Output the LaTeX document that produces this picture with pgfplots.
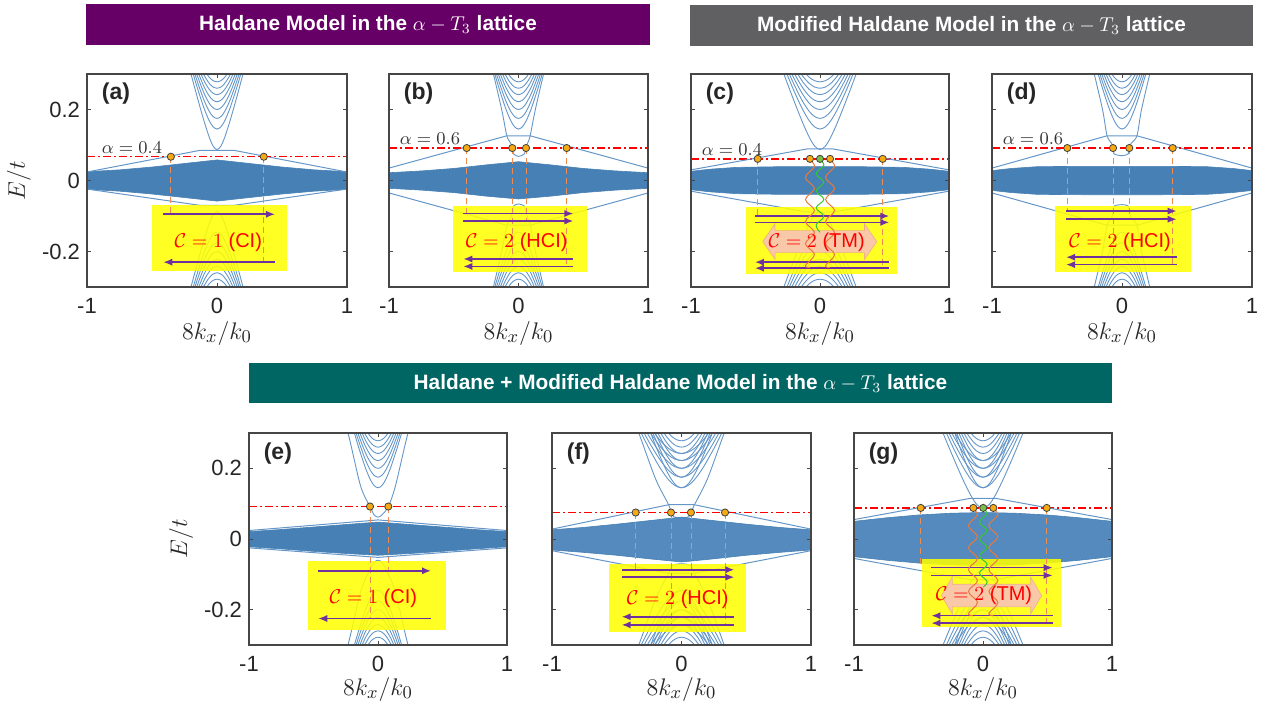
\documentclass[border=0pt]{standalone}
\usepackage{pgfplots}
\pgfplotsset{compat=1.18}
\usepackage{pgfplotstable}
\usepackage{fontspec}
\setmainfont{Liberation Sans}
\usetikzlibrary{arrows.meta}

\definecolor{hpurple}{RGB}{102,0,102}
\definecolor{hgray}{RGB}{96,96,98}
\definecolor{hteal}{RGB}{0,102,100}
\definecolor{bandc}{RGB}{70,128,180}
\definecolor{bandl}{RGB}{84,138,190}
\definecolor{conec}{RGB}{100,150,200}
\definecolor{axisc}{RGB}{70,70,70}
\definecolor{boxc}{RGB}{255,255,0}
\definecolor{arrc}{RGB}{112,48,160}
\definecolor{dotc}{RGB}{245,170,20}
\definecolor{dotg}{RGB}{120,190,70}
\definecolor{dashc}{RGB}{240,140,80}
\definecolor{wavec}{RGB}{235,120,60}
\definecolor{waveg}{RGB}{50,200,50}
\definecolor{peach}{RGB}{249,200,168}
\definecolor{peachd}{RGB}{240,175,130}

\newcommand{\tickfont}{\fontsize{11}{12}\selectfont}
\newcommand{\labfont}{\fontsize{12.5}{14}\selectfont}
\newcommand{\headfont}{\fontsize{10.4}{12}\selectfont\bfseries}
\newcommand{\letfont}{\fontsize{11.5}{13}\selectfont\bfseries}
\newcommand{\boxfont}{\fontsize{10}{12}\selectfont}
\newcommand{\alfont}{\fontsize{9}{10}\selectfont}

% Dirac-cone subbands (upper and lower branches), E/t versus 8k_x/k_0
\pgfplotstableread{
k c1 c2 c3 c4 c5 c6 c7 c8
-0.25 0.3691 0.3869 0.3992 0.4107 0.4218 0.4330 0.4432 0.4542
-0.20 0.2999 0.3216 0.3361 0.3498 0.3628 0.3755 0.3864 0.3986
-0.15 0.2322 0.2595 0.2774 0.2938 0.3092 0.3239 0.3375 0.3489
-0.10 0.1678 0.2040 0.2263 0.2462 0.2643 0.2813 0.2970 0.3129
-0.06 0.1224 0.1686 0.1950 0.2177 0.2381 0.2569 0.2739 0.2910
-0.03 0.0971 0.1513 0.1802 0.2046 0.2261 0.2458 0.2635 0.2813
0.00 0.0870 0.1450 0.1750 0.2000 0.2220 0.2420 0.2600 0.2780
0.03 0.0971 0.1513 0.1802 0.2046 0.2261 0.2458 0.2635 0.2813
0.06 0.1224 0.1686 0.1950 0.2177 0.2381 0.2569 0.2739 0.2910
0.10 0.1678 0.2040 0.2263 0.2462 0.2643 0.2813 0.2970 0.3129
0.15 0.2322 0.2595 0.2774 0.2938 0.3092 0.3239 0.3375 0.3489
0.20 0.2999 0.3216 0.3361 0.3498 0.3628 0.3755 0.3864 0.3986
0.25 0.3691 0.3869 0.3992 0.4107 0.4218 0.4330 0.4432 0.4542
}\coneup
\pgfplotstableread{
k c1 c2 c3 c4 c5 c6 c7 c8
-0.25 -0.3691 -0.3869 -0.3992 -0.4107 -0.4218 -0.4330 -0.4432 -0.4542
-0.20 -0.2999 -0.3216 -0.3361 -0.3498 -0.3628 -0.3755 -0.3864 -0.3986
-0.15 -0.2322 -0.2595 -0.2774 -0.2938 -0.3092 -0.3239 -0.3375 -0.3489
-0.10 -0.1678 -0.2040 -0.2263 -0.2462 -0.2643 -0.2813 -0.2970 -0.3129
-0.06 -0.1224 -0.1686 -0.1950 -0.2177 -0.2381 -0.2569 -0.2739 -0.2910
-0.03 -0.0971 -0.1513 -0.1802 -0.2046 -0.2261 -0.2458 -0.2635 -0.2813
0.00 -0.0870 -0.1450 -0.1750 -0.2000 -0.2220 -0.2420 -0.2600 -0.2780
0.03 -0.0971 -0.1513 -0.1802 -0.2046 -0.2261 -0.2458 -0.2635 -0.2813
0.06 -0.1224 -0.1686 -0.1950 -0.2177 -0.2381 -0.2569 -0.2739 -0.2910
0.10 -0.1678 -0.2040 -0.2263 -0.2462 -0.2643 -0.2813 -0.2970 -0.3129
0.15 -0.2322 -0.2595 -0.2774 -0.2938 -0.3092 -0.3239 -0.3375 -0.3489
0.20 -0.2999 -0.3216 -0.3361 -0.3498 -0.3628 -0.3755 -0.3864 -0.3986
0.25 -0.3691 -0.3869 -0.3992 -0.4107 -0.4218 -0.4330 -0.4432 -0.4542
}\conedown

\pgfplotsset{
  bandpanel/.style={
    scale only axis, height=106.5pt,
    xmin=-1, xmax=1, ymin=-0.3, ymax=0.3,
    xtick={-1,0,1}, xticklabels={-1,0,1},
    ytick={-0.2,0,0.2}, yticklabels={},
    tick align=inside, major tick length=2.2pt,
    axis line style={axisc, line width=0.6pt},
    every tick/.style={axisc, line width=0.5pt},
    tick label style={font=\tickfont, text=black!85},
    xticklabel style={yshift=-2pt},
    axis on top,
  },
  cone/.style={conec, line width=0.45pt, smooth},
  edge/.style={conec, line width=0.5pt},
  bandfill/.style={fill=bandc, draw=bandc, line width=0.3pt},
  wavy/.style={line width=0.5pt, smooth, tension=0.6},
}

% subband fan, #1 = k stretch, #2 = columns
\newcommand{\cones}[2]{%
  \pgfplotsinvokeforeach{#2}{%
    \addplot[cone] table[x expr=#1*\thisrow{k}, y=##1]{\coneup};
    \addplot[cone] table[x expr=#1*\thisrow{k}, y=##1]{\conedown};
  }}
\newcommand{\dropline}[3]{\addplot[dashc, densely dashed, line width=0.45pt] coordinates {(#1,#2) (#1,#3)};}
\newcommand{\harrow}[3]{\addplot[arrc, line width=0.8pt, -{Latex[length=4.5pt,width=3.6pt]}] coordinates {(#1,#3) (#2,#3)};}
\newcommand{\ybox}[4]{\addplot[draw=none, fill=boxc, fill opacity=0.86] coordinates {(#1,#3) (#2,#3) (#2,#4) (#1,#4)};}
\newcommand{\level}[1]{\addplot[draw=red, line width=0.7pt, dash pattern=on 4pt off 1.5pt on 1pt off 1.5pt] coordinates {(-1,#1) (0,#1) (1,#1)};}
\newcommand{\crossings}[1]{\addplot[only marks, mark=*, mark size=1.8pt, mark options={fill=dotc, draw=black!75, line width=0.4pt}] coordinates {#1};}
\newcommand{\crossg}[1]{\addplot[only marks, mark=*, mark size=1.8pt, mark options={fill=dotg, draw=black!75, line width=0.4pt}] coordinates {#1};}

\tikzset{
  alab/.style={anchor=base west, yshift=1.8pt, font=\alfont, text=black!80},
  chern/.style={text=red, font=\boxfont},
  plet/.style={anchor=west, font=\letfont, text=black!85},
}

\begin{document}
\begin{tikzpicture}
\useasboundingbox (0,0) rectangle (636.5pt,-354.5pt);

% section headers
\fill[hpurple] (43pt,-2.2pt) rectangle (325pt,-22.6pt);
\node[text=white, font=\headfont] at (184pt,-12.4pt) {Haldane Model in the $\alpha-T_3$ lattice};
\fill[hgray] (345pt,-2.4pt) rectangle (626.5pt,-22.8pt);
\node[text=white, font=\headfont] at (485.75pt,-12.6pt) {Modified Haldane Model in the $\alpha-T_3$ lattice};
\fill[hteal] (124.5pt,-181.5pt) rectangle (556pt,-201.5pt);
\node[text=white, font=\headfont] at (340.25pt,-191.5pt) {Haldane + Modified Haldane Model in the $\alpha-T_3$ lattice};

% ---------------- (a) ----------------
\begin{axis}[bandpanel, at={(43.5pt,-143.5pt)}, anchor=south west, width=130pt, yticklabels={-0.2,0,0.2}]
\cones{1}{c1,c2,c3,c4,c5,c6,c7,c8}
\addplot[bandfill] coordinates {(-1,0.025) (-0.75,0.03) (-0.5,0.038) (-0.25,0.048) (0,0.058) (0.25,0.048) (0.5,0.038) (0.75,0.03) (1,0.025)
  (1,-0.025) (0.75,-0.03) (0.5,-0.038) (0.25,-0.048) (0,-0.058) (-0.25,-0.048) (-0.5,-0.038) (-0.75,-0.03) (-1,-0.025)};
\addplot[edge] coordinates {(-1,0.024) (-0.13,0.085) (0.13,0.085) (1,0.024)};
\addplot[edge] coordinates {(-1,-0.024) (-0.13,-0.07) (0.13,-0.07) (1,-0.024)};
\level{0.067}
\ybox{-0.5}{0.535}{-0.256}{-0.07}
\dropline{-0.355}{0.067}{-0.095}
\dropline{0.36}{0.067}{-0.23}
\harrow{-0.413}{0.446}{-0.095}
\harrow{0.446}{-0.413}{-0.23}
\crossings{(-0.355,0.067) (0.36,0.067)}
\node[alab] at (axis cs:-0.94,0.067) {$\alpha = 0.4$};
\node[chern] at (axis cs:0.01,-0.173) {$\mathcal{C} = 1$ (CI)};
\node[plet] at (rel axis cs:0.03,0.91) {(a)};
\end{axis}

% ---------------- (b) ----------------
\begin{axis}[bandpanel, at={(194.5pt,-143.5pt)}, anchor=south west, width=129.5pt]
\cones{1}{c2,c3,c4,c5,c6,c7,c8}
\addplot[cone] coordinates {(-0.2,0.31) (-0.13,0.2) (-0.09,0.126) (-0.06,0.105) (-0.048,0.0915) (-0.038,0.075) (0,0.068) (0.045,0.075) (0.058,0.0915) (0.07,0.105) (0.09,0.126) (0.13,0.2) (0.2,0.31)};
\addplot[cone] coordinates {(-0.2,-0.31) (-0.13,-0.2) (-0.09,-0.126) (-0.06,-0.105) (-0.048,-0.09) (-0.038,-0.072) (0,-0.066) (0.045,-0.072) (0.058,-0.09) (0.07,-0.105) (0.09,-0.126) (0.13,-0.2) (0.2,-0.31)};
\addplot[bandfill] coordinates {(-1,0.022) (-0.75,0.027) (-0.5,0.034) (-0.25,0.044) (0,0.053) (0.25,0.044) (0.5,0.034) (0.75,0.027) (1,0.022)
  (1,-0.022) (0.75,-0.027) (0.5,-0.034) (0.25,-0.044) (0,-0.052) (-0.25,-0.044) (-0.5,-0.034) (-0.75,-0.027) (-1,-0.022)};
\addplot[edge] coordinates {(-1,0.035) (-0.09,0.126) (0.09,0.126) (1,0.035)};
\addplot[edge] coordinates {(-1,-0.035) (-0.09,-0.126) (0.09,-0.126) (1,-0.035)};
\level{0.0915}
\ybox{-0.508}{0.531}{-0.258}{-0.072}
\dropline{-0.40}{0.0915}{-0.093}
\dropline{-0.048}{0.0915}{-0.242}
\dropline{0.058}{0.0915}{-0.114}
\dropline{0.372}{0.0915}{-0.242}
\harrow{-0.426}{0.423}{-0.093}
\harrow{-0.426}{0.423}{-0.114}
\harrow{0.423}{-0.426}{-0.221}
\harrow{0.423}{-0.426}{-0.242}
\crossings{(-0.40,0.0915) (-0.048,0.0915) (0.058,0.0915) (0.372,0.0915)}
\node[alab] at (axis cs:-0.97,0.0915) {$\alpha = 0.6$};
\node[chern] at (axis cs:-0.014,-0.174) {$\mathcal{C} = 2$ (HCI)};
\node[plet] at (rel axis cs:0.03,0.91) {(b)};
\end{axis}

% ---------------- (c) ----------------
\begin{axis}[bandpanel, at={(345.5pt,-143.5pt)}, anchor=south west, width=129pt]
\level{0.061}
\cones{1.4}{c1,c2,c3,c4,c5,c6,c7,c8}
\addplot[bandfill] coordinates {(-1,0.026) (-0.85,0.032) (-0.65,0.037) (-0.3,0.039) (0,0.039) (0.3,0.039) (0.65,0.037) (0.85,0.032) (1,0.026)
  (1,-0.026) (0.85,-0.032) (0.65,-0.037) (0.3,-0.039) (0,-0.039) (-0.3,-0.039) (-0.65,-0.037) (-0.85,-0.032) (-1,-0.026)};
\addplot[edge] coordinates {(-1,0.03) (-0.1,0.089) (0.1,0.089) (1,0.03)};
\addplot[edge] coordinates {(-1,-0.03) (-0.1,-0.089) (0.1,-0.089) (1,-0.03)};
\ybox{-0.574}{0.599}{-0.263}{-0.075}
\dropline{-0.483}{0.061}{-0.1}
\dropline{0.486}{0.061}{-0.247}
\harrow{-0.504}{0.537}{-0.1}
\harrow{-0.504}{0.537}{-0.118}
\harrow{0.537}{-0.504}{-0.23}
\harrow{0.537}{-0.504}{-0.247}
\addplot[draw=peachd, line width=0.3pt, fill=peach] coordinates {(-0.444,-0.172) (-0.349,-0.122) (-0.349,-0.141) (0.345,-0.141) (0.345,-0.122) (0.44,-0.172) (0.345,-0.222) (0.345,-0.203) (-0.349,-0.203) (-0.349,-0.222) (-0.444,-0.172)};
% wavy channels
\addplot[wavy, wavec] coordinates {(-0.078,0.057) (-0.043,0.0395) (-0.113,0.0085) (-0.043,-0.0225) (-0.113,-0.0535) (-0.043,-0.0845) (-0.113,-0.1155) (-0.043,-0.1465) (-0.113,-0.1775) (-0.043,-0.2085) (-0.113,-0.2395) (-0.078,-0.245)};
\addplot[wavy, wavec] coordinates {(0.078,0.057) (0.113,0.0395) (0.043,0.0085) (0.113,-0.0225) (0.043,-0.0535) (0.113,-0.0845) (0.043,-0.1155) (0.113,-0.1465) (0.043,-0.1775) (0.113,-0.2085) (0.043,-0.2395) (0.078,-0.245)};
\addplot[wavy, waveg] coordinates {(0,0.057) (0.03,0.043) (-0.03,0.019) (0.03,-0.005) (-0.03,-0.029) (0.03,-0.053) (-0.03,-0.077) (0.03,-0.101) (-0.03,-0.125) (0,-0.146)};
\crossg{(0,0.061)}
\crossings{(-0.483,0.061) (-0.078,0.061) (0.078,0.061) (0.486,0.061)}
\node[alab] at (axis cs:-0.97,0.061) {$\alpha = 0.4$};
\node[chern] at (axis cs:-0.026,-0.173) {$\mathcal{C} = 2$ (TM)};
\node[plet] at (rel axis cs:0.03,0.91) {(c)};
\end{axis}

% ---------------- (d) ----------------
\begin{axis}[bandpanel, at={(496pt,-143.5pt)}, anchor=south west, width=130pt]
\cones{1}{c2,c3,c4,c5,c6,c7,c8}
\addplot[cone] coordinates {(-0.22,0.31) (-0.15,0.2) (-0.115,0.126) (-0.08,0.105) (-0.069,0.0915) (-0.06,0.075) (0,0.07) (0.048,0.075) (0.056,0.0915) (0.07,0.105) (0.115,0.126) (0.15,0.2) (0.22,0.31)};
\addplot[cone] coordinates {(-0.22,-0.31) (-0.15,-0.2) (-0.115,-0.126) (-0.08,-0.105) (-0.069,-0.09) (-0.06,-0.072) (0,-0.068) (0.048,-0.072) (0.056,-0.09) (0.07,-0.105) (0.115,-0.126) (0.15,-0.2) (0.22,-0.31)};
\addplot[bandfill] coordinates {(-1,0.028) (-0.85,0.034) (-0.65,0.039) (-0.3,0.04) (0,0.04) (0.3,0.04) (0.65,0.039) (0.85,0.034) (1,0.028)
  (1,-0.028) (0.85,-0.034) (0.65,-0.039) (0.3,-0.04) (0,-0.04) (-0.3,-0.04) (-0.65,-0.039) (-0.85,-0.034) (-1,-0.028)};
\addplot[edge] coordinates {(-1,0.035) (-0.115,0.126) (0.115,0.126) (1,0.035)};
\addplot[edge] coordinates {(-1,-0.035) (-0.115,-0.126) (0.115,-0.126) (1,-0.035)};
\level{0.0915}
\ybox{-0.515}{0.531}{-0.258}{-0.072}
\dropline{-0.421}{0.0915}{-0.086}
\dropline{-0.069}{0.0915}{-0.237}
\dropline{0.056}{0.0915}{-0.109}
\dropline{0.39}{0.0915}{-0.237}
\harrow{-0.43}{0.42}{-0.086}
\harrow{-0.43}{0.42}{-0.109}
\harrow{0.42}{-0.43}{-0.216}
\harrow{0.42}{-0.43}{-0.237}
\crossings{(-0.421,0.0915) (-0.069,0.0915) (0.056,0.0915) (0.39,0.0915)}
\node[alab] at (axis cs:-0.97,0.0915) {$\alpha = 0.6$};
\node[chern] at (axis cs:-0.015,-0.173) {$\mathcal{C} = 2$ (HCI)};
\node[plet] at (rel axis cs:0.03,0.91) {(d)};
\end{axis}

% ---------------- (e) ----------------
\begin{axis}[bandpanel, at={(124.5pt,-322.5pt)}, anchor=south west, width=129pt, height=106pt, yticklabels={-0.2,0,0.2}]
\cones{1}{c2,c3,c4,c5,c6,c7,c8}
\addplot[cone] coordinates {(-0.3,0.36) (-0.233,0.3) (-0.135,0.15) (-0.062,0.092) (-0.03,0.068) (0,0.062) (0.03,0.068) (0.08,0.092) (0.135,0.15) (0.233,0.3) (0.3,0.36)};
\addplot[cone] coordinates {(-0.3,-0.36) (-0.233,-0.3) (-0.135,-0.15) (-0.07,-0.092) (-0.03,-0.066) (0,-0.06) (0.03,-0.066) (0.07,-0.092) (0.135,-0.15) (0.233,-0.3) (0.3,-0.36)};
\addplot[bandfill] coordinates {(-1,0.021) (-0.75,0.027) (-0.5,0.034) (-0.25,0.041) (0,0.048) (0.25,0.041) (0.5,0.034) (0.75,0.027) (1,0.021)
  (1,-0.022) (0.75,-0.028) (0.5,-0.035) (0.25,-0.041) (0,-0.046) (-0.25,-0.041) (-0.5,-0.035) (-0.75,-0.028) (-1,-0.022)};
\addplot[edge] coordinates {(-1,0.024) (0,0.054) (1,0.024)};
\addplot[edge] coordinates {(-1,-0.025) (0,-0.052) (1,-0.025)};
\level{0.092}
\ybox{-0.54}{0.525}{-0.257}{-0.063}
\dropline{-0.062}{0.092}{-0.225}
\dropline{0.08}{0.092}{-0.09}
\harrow{-0.463}{0.411}{-0.09}
\harrow{0.411}{-0.463}{-0.225}
\crossings{(-0.062,0.092) (0.08,0.092)}
\node[chern] at (axis cs:-0.036,-0.169) {$\mathcal{C} = 1$ (CI)};
\node[plet] at (rel axis cs:0.03,0.905) {(e)};
\end{axis}

% ---------------- (f) ----------------
\begin{axis}[bandpanel, at={(276pt,-322.5pt)}, anchor=south west, width=129.5pt, height=106pt]
\cones{1.3}{c2,c3,c4,c5,c6,c7,c8}
\cones{1.7}{c2,c3,c4,c5,c6}
\addplot[cone] coordinates {(-0.4,0.36) (-0.33,0.3) (-0.2,0.17) (-0.1,0.097) (-0.081,0.075) (-0.06,0.063) (0,0.06) (0.055,0.063) (0.073,0.075) (0.1,0.097) (0.2,0.17) (0.33,0.3) (0.4,0.36)};
\addplot[cone] coordinates {(-0.4,-0.36) (-0.33,-0.3) (-0.2,-0.17) (-0.1,-0.097) (-0.07,-0.075) (0,-0.07) (0.07,-0.075) (0.1,-0.097) (0.2,-0.17) (0.33,-0.3) (0.4,-0.36)};
\addplot[fill=bandl, draw=bandc, line width=0.3pt] coordinates {(-1,0.026) (-0.75,0.033) (-0.5,0.042) (-0.25,0.052) (0,0.062) (0.25,0.052) (0.5,0.042) (0.75,0.033) (1,0.026)
  (1,-0.031) (0.75,-0.038) (0.5,-0.046) (0.25,-0.056) (0,-0.065) (-0.25,-0.056) (-0.5,-0.046) (-0.75,-0.038) (-1,-0.031)};
\addplot[edge] coordinates {(-1,0.028) (-0.1,0.097) (0.1,0.097) (1,0.028)};
\addplot[edge] coordinates {(-1,-0.033) (-0.1,-0.097) (0.1,-0.097) (1,-0.033)};
\level{0.075}
\ybox{-0.557}{0.496}{-0.262}{-0.07}
\dropline{-0.354}{0.075}{-0.087}
\dropline{-0.081}{0.075}{-0.243}
\dropline{0.073}{0.075}{-0.108}
\dropline{0.336}{0.075}{-0.243}
\harrow{-0.462}{0.408}{-0.087}
\harrow{-0.462}{0.408}{-0.108}
\harrow{0.408}{-0.462}{-0.22}
\harrow{0.408}{-0.462}{-0.243}
\crossings{(-0.354,0.075) (-0.081,0.075) (0.073,0.075) (0.336,0.075)}
\node[chern] at (axis cs:-0.029,-0.17) {$\mathcal{C} = 2$ (HCI)};
\node[plet] at (rel axis cs:0.03,0.905) {(f)};
\end{axis}

% ---------------- (g) ----------------
\begin{axis}[bandpanel, at={(427pt,-322.5pt)}, anchor=south west, width=129pt, height=106pt]
\level{0.088}
\cones{1.2}{c2,c3,c4,c5,c6,c7,c8}
\cones{1.55}{c1,c2,c3,c4,c5}
\addplot[fill=bandl, draw=bandc, line width=0.3pt] coordinates {(-1,0.05) (-0.75,0.06) (-0.5,0.068) (-0.25,0.073) (0,0.075) (0.25,0.073) (0.5,0.068) (0.75,0.06) (1,0.05)
  (1,-0.05) (0.75,-0.06) (0.5,-0.068) (0.25,-0.073) (0,-0.075) (-0.25,-0.073) (-0.5,-0.068) (-0.75,-0.06) (-1,-0.05)};
\addplot[edge] coordinates {(-1,0.055) (-0.1,0.115) (0.1,0.115) (1,0.055)};
\addplot[edge] coordinates {(-1,-0.055) (-0.1,-0.115) (0.1,-0.115) (1,-0.055)};
\ybox{-0.473}{0.602}{-0.25}{-0.057}
\dropline{-0.483}{0.088}{-0.081}
\dropline{0.494}{0.088}{-0.238}
\harrow{-0.4}{0.54}{-0.081}
\harrow{-0.4}{0.54}{-0.103}
\harrow{0.54}{-0.4}{-0.217}
\harrow{0.54}{-0.4}{-0.238}
\addplot[draw=peachd, line width=0.3pt, fill=peach] coordinates {(-0.323,-0.16) (-0.238,-0.108) (-0.238,-0.128) (0.37,-0.128) (0.37,-0.108) (0.455,-0.16) (0.37,-0.212) (0.37,-0.192) (-0.238,-0.192) (-0.238,-0.212) (-0.323,-0.16)};
% wavy channels
\addplot[wavy, wavec] coordinates {(-0.078,0.084) (-0.043,0.0685) (-0.113,0.0375) (-0.043,0.0065) (-0.113,-0.0245) (-0.043,-0.0555) (-0.113,-0.0865) (-0.043,-0.1175) (-0.113,-0.1485) (-0.043,-0.1795) (-0.113,-0.2105) (-0.078,-0.217)};
\addplot[wavy, wavec] coordinates {(0.08,0.084) (0.115,0.0685) (0.045,0.0375) (0.115,0.0065) (0.045,-0.0245) (0.115,-0.0555) (0.045,-0.0865) (0.115,-0.1175) (0.045,-0.1485) (0.115,-0.1795) (0.045,-0.2105) (0.08,-0.217)};
\addplot[wavy, waveg] coordinates {(0.002,0.084) (0.032,0.072) (-0.028,0.048) (0.032,0.024) (-0.028,0.0) (0.032,-0.024) (-0.028,-0.048) (0.032,-0.072) (-0.028,-0.096) (0.032,-0.12) (0.002,-0.136)};
\crossg{(0.002,0.088)}
\crossings{(-0.483,0.088) (-0.075,0.088) (0.08,0.088) (0.494,0.088)}
\node[chern] at (axis cs:0.008,-0.16) {$\mathcal{C} = 2$ (TM)};
\node[plet] at (rel axis cs:0.03,0.905) {(g)};
\end{axis}

% axis titles
\node[rotate=90, font=\labfont, text=black!85] at (9.5pt,-90.5pt) {$E/t$};
\node[rotate=90, font=\labfont, text=black!85] at (90.5pt,-269.5pt) {$E/t$};
\foreach \cx in {108.5,259.25,410,561} {\node[font=\labfont, text=black!85] at (\cx pt,-166.5pt) {$8k_x/k_0$};}
\foreach \cx in {189,340.75,491.5} {\node[font=\labfont, text=black!85] at (\cx pt,-344.5pt) {$8k_x/k_0$};}
\end{tikzpicture}
\end{document}
